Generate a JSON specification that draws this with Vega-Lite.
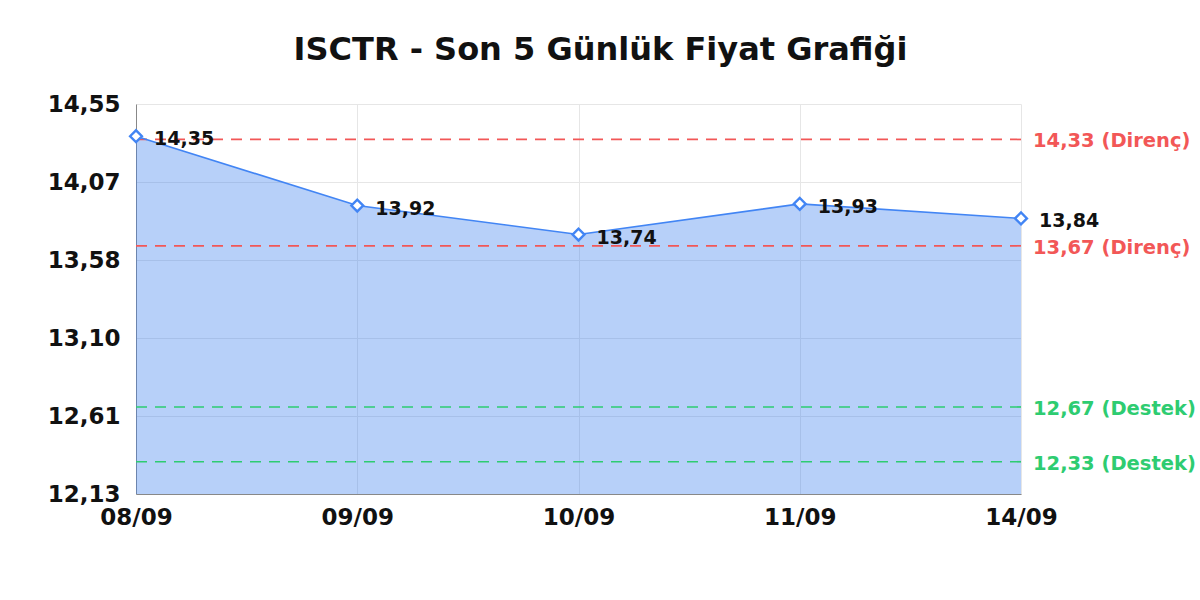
{
  "$schema": "https://vega.github.io/schema/vega-lite/v6.json",
  "description": "ISCTR son 5 gunluk fiyat grafigi, destek ve direnc seviyeleri ile.",
  "background": "white",
  "autosize": {"type": "none"},
  "padding": {"left": 136, "top": 104, "right": 179, "bottom": 106},
  "width": 885,
  "height": 390,
  "title": {
    "text": "ISCTR - Son 5 Günlük Fiyat Grafiği",
    "font": "DejaVu Sans",
    "fontSize": 32,
    "fontWeight": "bold",
    "color": "#111111",
    "anchor": "middle",
    "dx": 22,
    "offset": 26
  },
  "datasets": {
    "fiyatlar": [
      {"tarih": "08/09", "fiyat": 14.35},
      {"tarih": "09/09", "fiyat": 13.92},
      {"tarih": "10/09", "fiyat": 13.74},
      {"tarih": "11/09", "fiyat": 13.93},
      {"tarih": "14/09", "fiyat": 13.84}
    ],
    "seviyeler": [
      {"seviye": 14.33, "tur": "Direnç", "etiket": "14,33 (Direnç)"},
      {"seviye": 13.67, "tur": "Direnç", "etiket": "13,67 (Direnç)"},
      {"seviye": 12.67, "tur": "Destek", "etiket": "12,67 (Destek)"},
      {"seviye": 12.33, "tur": "Destek", "etiket": "12,33 (Destek)"}
    ]
  },
  "layer": [
    {
      "data": {"name": "fiyatlar"},
      "mark": {"type": "area", "color": "#3d7ff0", "opacity": 0.37},
      "encoding": {
        "x": {
          "field": "tarih",
          "type": "ordinal",
          "scale": {"type": "point", "padding": 0, "domain": ["08/09", "09/09", "10/09", "11/09", "14/09"]},
          "axis": {
            "title": null,
            "labelAngle": 0,
            "labelFont": "DejaVu Sans",
            "labelFontSize": 23,
            "labelFontWeight": "bold",
            "labelColor": "#111111",
            "labelPadding": 12,
            "ticks": false,
            "domainColor": "#888888",
            "grid": true,
            "gridColor": "#e6e6e6"
          }
        },
        "y": {
          "field": "fiyat",
          "type": "quantitative",
          "scale": {"domain": [12.13, 14.55], "zero": false, "nice": false},
          "axis": {
            "title": null,
            "values": [12.13, 12.614, 13.098, 13.582, 14.066, 14.55],
            "labelExpr": "replace(format(datum.value, '.2f'), '.', ',')",
            "labelFont": "DejaVu Sans",
            "labelFontSize": 23,
            "labelFontWeight": "bold",
            "labelColor": "#111111",
            "labelPadding": 16,
            "ticks": false,
            "domainColor": "#888888",
            "gridColor": "#e6e6e6"
          }
        },
        "y2": {"datum": 12.13}
      }
    },
    {
      "data": {"name": "seviyeler"},
      "mark": {"type": "rule", "strokeDash": [11, 8], "strokeWidth": 1.7},
      "encoding": {
        "y": {"field": "seviye", "type": "quantitative"},
        "color": {
          "field": "tur",
          "type": "nominal",
          "scale": {"domain": ["Direnç", "Destek"], "range": ["#f25757", "#2ecc71"]},
          "legend": null
        }
      }
    },
    {
      "data": {"name": "fiyatlar"},
      "mark": {"type": "line", "color": "#4285f4", "strokeWidth": 1.6},
      "encoding": {
        "x": {"field": "tarih", "type": "ordinal"},
        "y": {"field": "fiyat", "type": "quantitative"}
      }
    },
    {
      "data": {"name": "fiyatlar"},
      "mark": {"type": "point", "shape": "diamond", "filled": true, "fill": "white", "stroke": "#4285f4", "strokeWidth": 2.4, "size": 140, "opacity": 1},
      "encoding": {
        "x": {"field": "tarih", "type": "ordinal"},
        "y": {"field": "fiyat", "type": "quantitative"}
      }
    },
    {
      "data": {"name": "fiyatlar"},
      "mark": {"type": "text", "align": "left", "baseline": "middle", "dx": 18, "dy": 3, "font": "DejaVu Sans", "fontSize": 19, "fontWeight": "bold", "color": "#111111"},
      "encoding": {
        "x": {"field": "tarih", "type": "ordinal"},
        "y": {"field": "fiyat", "type": "quantitative"},
        "text": {"field": "fiyat", "type": "quantitative", "format": ".2f"}
      }
    },
    {
      "data": {"name": "seviyeler"},
      "mark": {"type": "text", "align": "left", "baseline": "middle", "dx": 12, "dy": 2, "font": "DejaVu Sans", "fontSize": 19.5, "fontWeight": "bold"},
      "encoding": {
        "x": {"datum": "14/09"},
        "y": {"field": "seviye", "type": "quantitative"},
        "text": {"field": "etiket"},
        "color": {"field": "tur", "type": "nominal", "legend": null}
      }
    }
  ],
  "config": {
    "view": {"stroke": null},
    "locale": {
      "number": {"decimal": ",", "thousands": ".", "grouping": [3], "currency": ["", " ₺"]}
    }
  }
}
